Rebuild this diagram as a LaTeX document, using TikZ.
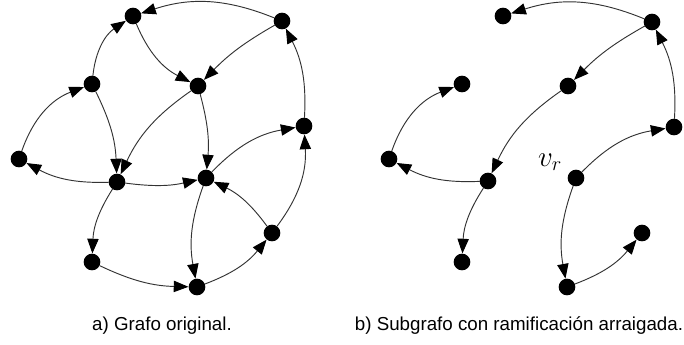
\documentclass[tikz,border=0pt]{standalone}
\usepackage{amsmath,amssymb}
\usepackage{fontspec}
\setmainfont{Liberation Sans}
\usetikzlibrary{arrows.meta}

\begin{document}
\begin{tikzpicture}[x=3cm, y=3cm, line cap=round, line join=round,
  vtx/.style={circle, fill=black, inner sep=0pt, minimum size=0.5cm},
  arc/.style={draw=black!80, line width=0.8pt, -{Triangle[length=4.4mm,width=3.4mm,black]}}]
\useasboundingbox (0,0) rectangle (6.84,-3.44);

\node[vtx] (a) at (1.33,-0.16) {};
\node[vtx] (b) at (2.82,-0.21) {};
\node[vtx] (c) at (0.92,-0.84) {};
\node[vtx] (d) at (1.98,-0.86) {};
\node[vtx] (e) at (0.19,-1.59) {};
\node[vtx] (f) at (1.17,-1.82) {};
\node[vtx] (g) at (2.06,-1.78) {};
\node[vtx] (h) at (3.04,-1.26) {};
\node[vtx] (i) at (0.92,-2.62) {};
\node[vtx] (j) at (1.97,-2.87) {};
\node[vtx] (k) at (2.72,-2.33) {};

\draw[arc] (b) to[bend right=20] (a);
\draw[arc] (a) to[bend right=20] (d);
\draw[arc] (b) to[bend right=8] (d);
\draw[arc] (c) to[bend left=25] (a);
\draw[arc] (e) to[bend left=25] (c);
\draw[arc] (c) to[bend left=12] (f);
\draw[arc] (d) to[bend right=15] (f);
\draw[arc] (d) to[bend left=10] (g);
\draw[arc] (f) to[bend left=15] (e);
\draw[arc] (f) to[bend right=10] (g);
\draw[arc] (f) to[bend right=15] (i);
\draw[arc] (g) to[bend left=18] (h);
\draw[arc] (h) to[bend right=15] (b);
\draw[arc] (g) to[bend right=15] (j);
\draw[arc] (i) to[bend right=12] (j);
\draw[arc] (j) to[bend right=15] (k);
\draw[arc] (k) to[bend right=14] (g);
\draw[arc] (k) to[bend right=20] (h);

\node[vtx] (a2) at (5.03,-0.16) {};
\node[vtx] (b2) at (6.52,-0.22) {};
\node[vtx] (c2) at (4.62,-0.84) {};
\node[vtx] (d2) at (5.68,-0.86) {};
\node[vtx] (e2) at (3.89,-1.59) {};
\node[vtx] (f2) at (4.88,-1.81) {};
\node[vtx] (g2) at (5.76,-1.78) {};
\node[vtx] (h2) at (6.74,-1.27) {};
\node[vtx] (i2) at (4.62,-2.62) {};
\node[vtx] (j2) at (5.67,-2.87) {};
\node[vtx] (k2) at (6.42,-2.33) {};

\draw[arc] (b2) to[bend right=20] (a2);
\draw[arc] (b2) to[bend right=8] (d2);
\draw[arc] (e2) to[bend left=25] (c2);
\draw[arc] (d2) to[bend right=15] (f2);
\draw[arc] (f2) to[bend left=15] (e2);
\draw[arc] (f2) to[bend right=15] (i2);
\draw[arc] (g2) to[bend left=18] (h2);
\draw[arc] (h2) to[bend right=15] (b2);
\draw[arc] (g2) to[bend right=15] (j2);
\draw[arc] (j2) to[bend right=15] (k2);

\node (vr) at (5.50,-1.62) {\fontsize{23}{27}\selectfont$v_r$};

\node (capa) at (1.62,-3.26) {\fontsize{16}{19}\selectfont a) Grafo original.};
\node (capb) at (5.19,-3.26) {\fontsize{16}{19}\selectfont b) Subgrafo con ramificación arraigada.};
\end{tikzpicture}
\end{document}
